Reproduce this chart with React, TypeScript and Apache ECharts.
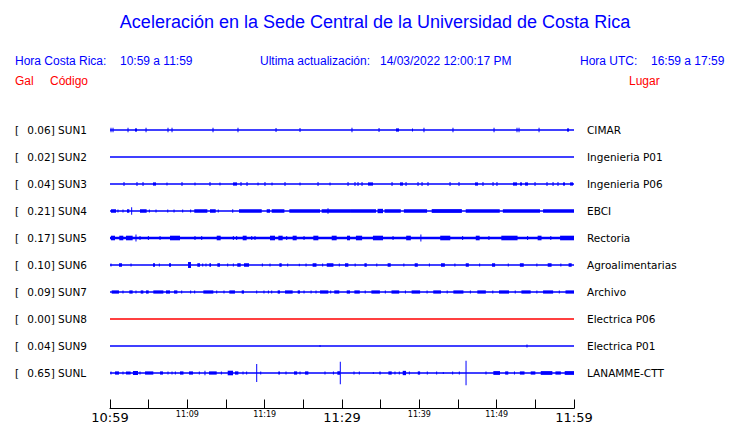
import React, { useEffect, useRef } from "react";
import * as echarts from "echarts";

// ---------- data ----------
const stationCodes = ["SUN1", "SUN2", "SUN3", "SUN4", "SUN5", "SUN6", "SUN7", "SUN8", "SUN9", "SUNL"];
const peakGal = [0.06, 0.02, 0.04, 0.21, 0.17, 0.1, 0.09, 0.0, 0.04, 0.65];
const places = [
  "CIMAR",
  "Ingenieria P01",
  "Ingenieria P06",
  "EBCI",
  "Rectoria",
  "Agroalimentarias",
  "Archivo",
  "Electrica P06",
  "Electrica P01",
  "LANAMME-CTT",
];
// minutes since 10:59
const timeRange = [0, 60];
const tickLabels = ["10:59", "", "11:09", "", "11:19", "", "11:29", "", "11:39", "", "11:49", "", "11:59"];
const majorTickLabels = ["10:59", "11:29", "11:59"];

// events per station: [start minute, end minute, half amplitude (fraction of trace spacing)]
const sun1Events = [
  [0.13, 0.13, 0.085], [0.39, 0.39, 0.085], [2.33, 2.33, 0.085], [3.23, 3.49, 0.06], [4.66, 4.66, 0.085],
  [7.5, 7.5, 0.085], [8.02, 8.02, 0.085], [13.32, 13.32, 0.085], [16.55, 16.55, 0.085], [21.47, 21.47, 0.07],
  [24.57, 24.57, 0.07], [31.29, 31.29, 0.085], [34.79, 34.79, 0.07], [36.98, 37.37, 0.06], [39.05, 39.18, 0.06],
  [40.6, 40.6, 0.085], [44.35, 44.35, 0.085], [49.66, 49.66, 0.085], [52.63, 52.63, 0.085], [52.89, 52.89, 0.085],
  [55.48, 55.48, 0.085], [59.1, 59.36, 0.06],
];
const sun2Events: number[][] = [];
const sun3Events = [
  [1.81, 1.81, 0.07], [3.49, 3.49, 0.07], [4.27, 4.27, 0.07], [5.56, 5.95, 0.06], [7.37, 7.37, 0.06],
  [9.31, 9.31, 0.07], [10.99, 10.99, 0.06], [12.93, 12.93, 0.07], [14.22, 14.22, 0.06], [15.91, 16.42, 0.06],
  [16.94, 16.94, 0.07], [17.72, 17.72, 0.07], [19.14, 19.14, 0.06], [20.04, 20.04, 0.07], [20.95, 20.95, 0.06],
  [22.63, 22.63, 0.07], [24.57, 24.57, 0.06], [26.9, 26.9, 0.07], [28.45, 28.45, 0.06], [30.78, 30.78, 0.07],
  [31.68, 31.68, 0.07], [32.07, 32.07, 0.07], [32.59, 32.59, 0.07], [33.36, 34.01, 0.06], [36.47, 36.47, 0.07],
  [37.5, 37.89, 0.06], [38.28, 38.28, 0.07], [39.83, 39.83, 0.07], [40.35, 40.35, 0.07], [41.12, 41.12, 0.07],
  [43.97, 43.97, 0.07], [45.13, 45.13, 0.07], [47.2, 47.59, 0.06], [48.23, 48.23, 0.07], [49.53, 49.53, 0.07],
  [50.04, 50.04, 0.07], [52.11, 52.63, 0.06], [53.02, 53.28, 0.06], [53.67, 54.05, 0.06], [54.96, 54.96, 0.07],
  [56.51, 56.51, 0.07], [57.29, 57.29, 0.07], [57.93, 57.93, 0.07], [58.58, 58.84, 0.06], [59.49, 59.87, 0.06],
];
const sun4Events = [
  [0.13, 0.78, 0.065], [1.03, 1.03, 0.06], [1.68, 1.68, 0.06], [2.2, 2.5, 0.065], [2.8, 2.8, 0.14],
  [3.88, 4.74, 0.065], [5.09, 5.09, 0.06], [5.95, 5.95, 0.06], [7.47, 7.47, 0.06], [8.28, 8.28, 0.06],
  [9.4, 9.4, 0.06], [10.43, 10.43, 0.06], [10.9, 12.59, 0.065], [12.93, 13.67, 0.065], [14.0, 14.0, 0.06],
  [15.87, 15.87, 0.065], [16.68, 19.62, 0.065], [20.26, 20.69, 0.065], [20.91, 22.55, 0.065], [23.19, 27.16, 0.065],
  [27.37, 31.04, 0.065], [28.19, 28.19, 0.1], [31.04, 34.4, 0.065], [34.6, 35.3, 0.08], [35.5, 37.6, 0.065],
  [38.0, 41.0, 0.065], [41.6, 45.5, 0.07], [46.0, 50.4, 0.065], [50.8, 55.6, 0.065], [56.0, 60.0, 0.065],
];
const sun5Events = [
  [0.13, 0.65, 0.085], [1.2, 1.72, 0.085], [2.07, 2.93, 0.085], [3.36, 3.36, 0.13], [3.88, 3.88, 0.07],
  [4.96, 4.96, 0.07], [6.47, 6.47, 0.07], [7.76, 9.05, 0.085], [10.99, 10.99, 0.07], [11.86, 11.86, 0.07],
  [13.8, 14.31, 0.085], [15.95, 15.95, 0.07], [16.38, 16.38, 0.07], [17.16, 17.67, 0.085], [18.33, 18.33, 0.07],
  [18.75, 18.75, 0.07], [20.69, 21.34, 0.085], [21.77, 22.33, 0.085], [22.85, 22.85, 0.07], [23.62, 24.14, 0.085],
  [25.09, 25.09, 0.07], [26.29, 26.94, 0.085], [28.67, 29.31, 0.085], [30.65, 31.04, 0.085], [31.8, 32.6, 0.085],
  [34.0, 35.3, 0.085], [36.6, 36.6, 0.07], [38.3, 38.9, 0.085], [40.2, 40.2, 0.13], [42.7, 44.0, 0.085],
  [45.6, 45.6, 0.07], [47.3, 47.8, 0.085], [49.0, 49.0, 0.07], [50.6, 52.7, 0.085], [54.0, 54.0, 0.07],
  [55.3, 55.8, 0.085], [57.0, 57.0, 0.07], [58.2, 60.0, 0.085],
];
const sun6Events = [
  [0.13, 0.13, 0.06], [1.16, 1.55, 0.065], [2.72, 2.72, 0.06], [5.56, 5.82, 0.065], [6.38, 6.38, 0.06],
  [7.63, 7.89, 0.065], [10.09, 10.47, 0.11], [11.29, 11.64, 0.065], [11.99, 11.99, 0.06], [12.41, 12.41, 0.06],
  [12.85, 13.06, 0.065], [13.88, 14.22, 0.065], [15.22, 15.22, 0.06], [15.95, 15.95, 0.06], [16.46, 16.9, 0.065],
  [17.33, 17.98, 0.065], [19.7, 19.7, 0.06], [20.69, 20.69, 0.06], [21.9, 22.2, 0.065], [22.98, 22.98, 0.06],
  [24.48, 24.48, 0.05], [25.35, 25.35, 0.06], [26.2, 26.7, 0.065], [27.5, 27.5, 0.06], [28.03, 28.89, 0.065],
  [29.65, 29.65, 0.06], [30.39, 30.82, 0.065], [31.7, 31.7, 0.06], [32.9, 33.2, 0.065], [34.5, 34.5, 0.06],
  [35.9, 36.3, 0.065], [38.0, 38.0, 0.06], [39.4, 39.8, 0.065], [41.3, 41.3, 0.06], [42.8, 43.3, 0.065],
  [44.6, 44.6, 0.06], [46.0, 46.4, 0.065], [47.8, 47.8, 0.06], [49.4, 49.8, 0.065], [51.5, 51.5, 0.06],
  [53.0, 53.5, 0.065], [55.2, 55.2, 0.06], [56.6, 57.1, 0.065], [58.3, 58.3, 0.06], [59.3, 59.7, 0.065],
];
const sun7Events = [
  [0.22, 1.16, 0.06], [1.68, 1.68, 0.055], [2.5, 2.93, 0.06], [3.36, 3.36, 0.055], [3.97, 4.31, 0.06],
  [4.66, 5.0, 0.06], [5.6, 6.9, 0.06], [7.24, 7.76, 0.06], [8.28, 8.71, 0.06], [9.27, 9.27, 0.055],
  [10.43, 10.43, 0.055], [10.95, 10.95, 0.055], [12.07, 13.36, 0.06], [13.8, 13.8, 0.055], [14.74, 14.74, 0.055],
  [15.43, 16.16, 0.06], [17.03, 17.33, 0.06], [18.97, 18.97, 0.055], [19.91, 19.91, 0.055], [20.48, 20.48, 0.055],
  [20.91, 20.91, 0.055], [21.68, 21.98, 0.06], [22.63, 23.62, 0.06], [24.27, 24.57, 0.06], [25.09, 25.09, 0.055],
  [26.0, 26.0, 0.055], [26.64, 26.64, 0.055], [27.16, 28.23, 0.06], [28.54, 28.54, 0.055], [29.0, 29.65, 0.06],
  [30.61, 31.04, 0.06], [31.6, 32.3, 0.06], [33.0, 33.0, 0.055], [33.8, 34.9, 0.06], [35.6, 35.6, 0.055],
  [36.4, 37.4, 0.06], [38.2, 38.2, 0.055], [39.0, 40.1, 0.06], [41.0, 41.0, 0.055], [41.8, 42.8, 0.06],
  [43.6, 43.6, 0.055], [44.4, 45.7, 0.06], [46.6, 46.6, 0.055], [47.5, 48.6, 0.06], [49.5, 49.5, 0.055],
  [50.3, 51.6, 0.06], [52.4, 52.4, 0.055], [53.2, 54.4, 0.06], [55.2, 55.2, 0.055], [56.0, 57.3, 0.06],
  [58.1, 58.1, 0.055], [58.9, 60.0, 0.06],
];
const sun8Events: number[][] = [];
const sun9Events = [[27.16, 27.16, 0.04], [53.92, 53.92, 0.055]];
const sunlEvents = [
  [0.13, 0.13, 0.06], [0.65, 1.16, 0.06], [1.68, 1.68, 0.055], [2.07, 2.67, 0.06], [2.97, 3.62, 0.075],
  [3.88, 3.88, 0.055], [4.53, 5.6, 0.06], [6.47, 6.85, 0.06], [7.5, 7.5, 0.055], [8.02, 8.02, 0.055],
  [8.45, 8.45, 0.055], [9.05, 9.5, 0.06], [10.22, 10.73, 0.06], [11.55, 11.55, 0.055], [12.28, 12.28, 0.085],
  [12.8, 13.8, 0.06], [14.4, 14.4, 0.055], [15.22, 15.91, 0.085], [16.16, 16.6, 0.06], [17.2, 17.2, 0.055],
  [17.67, 17.67, 0.055], [18.97, 18.97, 0.33], [19.49, 19.49, 0.055], [21.76, 21.98, 0.06], [22.76, 22.76, 0.055],
  [23.79, 24.2, 0.06], [24.57, 24.57, 0.055], [25.22, 25.65, 0.06], [27.8, 27.8, 0.055], [28.89, 28.89, 0.055],
  [29.4, 29.74, 0.065], [29.78, 29.78, 0.42], [31.55, 31.55, 0.055], [32.24, 32.24, 0.055], [34.05, 34.05, 0.04],
  [34.83, 35.0, 0.06], [36.0, 36.43, 0.06], [36.85, 36.85, 0.055], [37.41, 37.41, 0.055], [37.85, 38.28, 0.08],
  [38.71, 38.71, 0.055], [39.8, 40.1, 0.06], [41.03, 41.03, 0.055], [42.24, 42.24, 0.055], [43.1, 43.1, 0.04],
  [44.31, 44.31, 0.055], [45.17, 45.17, 0.055], [46.04, 46.04, 0.45], [48.62, 48.62, 0.055], [49.57, 50.43, 0.07],
  [51.1, 51.5, 0.06], [52.3, 52.3, 0.055], [53.0, 53.6, 0.06], [54.4, 55.0, 0.06], [55.7, 57.2, 0.07],
  [57.6, 58.3, 0.06], [58.8, 60.0, 0.07],
];
const stationEvents = [
  sun1Events, sun2Events, sun3Events, sun4Events, sun5Events,
  sun6Events, sun7Events, sun8Events, sun9Events, sunlEvents,
];

// ---------- style ----------
const BLUE = "#0000ff";
const RED = "#ff0000";
const traceColors = stationCodes.map((c) => (c === "SUN8" ? RED : BLUE));
const baseWidths = stationCodes.map((c) => (c === "SUN5" ? 2.5 : 1.5));
const MIN_SPIKE_W = 1;

export default function App() {
  const ref = useRef<HTMLDivElement>(null);

  useEffect(() => {
    if (!ref.current) return;
    const chart = echarts.init(ref.current, undefined, { renderer: "svg" });

    const series: any[] = [];
    stationCodes.forEach((code, row) => {
      series.push({
        type: "line",
        name: code + "-base",
        xAxisIndex: 0,
        yAxisIndex: 0,
        data: [
          [timeRange[0], row],
          [timeRange[1], row],
        ],
        symbol: "none",
        lineStyle: { color: traceColors[row], width: baseWidths[row] },
        silent: true,
      });
      series.push({
        type: "custom",
        name: code,
        xAxisIndex: 0,
        yAxisIndex: 0,
        encode: { x: [0, 1], y: 3 },
        data: stationEvents[row].map((e) => [e[0], e[1], e[2], row]),
        renderItem: (params: any, api: any) => {
          const t0 = api.value(0);
          const t1 = api.value(1);
          const a = api.value(2);
          const r = api.value(3);
          const p0 = api.coord([t0, r - a]);
          const p1 = api.coord([t1, r + a]);
          const raw = Math.abs(p1[0] - p0[0]);
          const w = Math.max(raw, MIN_SPIKE_W);
          const x = Math.min(p0[0], p1[0]) - (raw < MIN_SPIKE_W ? MIN_SPIKE_W / 2 : 0);
          const y = Math.min(p0[1], p1[1]);
          const h = Math.abs(p1[1] - p0[1]);
          return {
            type: "rect",
            shape: { x, y, width: w, height: h },
            style: { fill: traceColors[r] },
          };
        },
        silent: true,
      });
    });

    const headerFont = "12px 'Liberation Sans', Arial, sans-serif";
    const option: any = {
      animation: false,
      backgroundColor: "#ffffff",
      grid: {
        left: 110,
        top: 116.5,
        width: 464,
        height: 270,
        containLabel: false,
        outerBoundsMode: "none",
      },
      xAxis: [
        {
          type: "value",
          min: timeRange[0],
          max: timeRange[1],
          interval: 5,
          position: "bottom",
          offset: 22,
          axisLine: { show: true, onZero: false, lineStyle: { color: "#000", width: 1 } },
          axisTick: { show: true, inside: true, length: 9, lineStyle: { color: "#000", width: 1 } },
          splitLine: { show: false },
          axisLabel: {
            show: true,
            showMinLabel: true,
            showMaxLabel: true,
            margin: 2,
            hideOverlap: false,
            formatter: (v: number) => {
              const lbl = tickLabels[Math.round(v / 5)] || "";
              if (!lbl) return "";
              return majorTickLabels.includes(lbl) ? `{big|${lbl}}` : `{small|${lbl}}`;
            },
            rich: {
              big: { fontFamily: "DejaVu Sans", fontSize: 13, fontWeight: "normal", color: "#000", verticalAlign: "top" },
              small: { fontFamily: "DejaVu Sans", fontSize: 8, fontWeight: "normal", color: "#000", verticalAlign: "top" },
            },
          },
        },
      ],
      yAxis: [
        {
          type: "value",
          min: -0.5,
          max: 9.5,
          inverse: true,
          show: false,
        },
        {
          type: "category",
          data: stationCodes,
          inverse: true,
          position: "left",
          axisLine: { show: false },
          axisTick: { show: false },
          splitLine: { show: false },
          axisLabel: {
            show: true,
            align: "left",
            margin: 95,
            interval: 0,
            fontFamily: "DejaVu Sans",
            fontSize: 10.5,
            color: "#000",
            formatter: (value: string, idx: number) =>
              `{br|[}${peakGal[idx].toFixed(2)}] ${value}`,
            rich: {
              br: { width: 12.3, fontFamily: "DejaVu Sans", fontSize: 10.5, color: "#000" },
            },
          },
        },
        {
          type: "category",
          data: places,
          inverse: true,
          position: "right",
          axisLine: { show: false },
          axisTick: { show: false },
          splitLine: { show: false },
          axisLabel: {
            show: true,
            align: "left",
            margin: 13,
            interval: 0,
            fontFamily: "DejaVu Sans",
            fontSize: 10.5,
            color: "#000",
          },
        },
      ],
      graphic: [
        {
          type: "text",
          x: 375,
          y: 22,
          style: {
            text: "Aceleración en la Sede Central de la Universidad de Costa Rica",
            font: "18px 'Liberation Sans', Arial, sans-serif",
            fill: BLUE,
            textAlign: "center",
            textVerticalAlign: "middle",
          },
        },
        { type: "text", x: 15, y: 61, style: { text: "Hora Costa Rica:", font: headerFont, fill: BLUE, textVerticalAlign: "middle" } },
        { type: "text", x: 120, y: 61, style: { text: "10:59 a 11:59", font: headerFont, fill: BLUE, textVerticalAlign: "middle" } },
        { type: "text", x: 260, y: 61, style: { text: "Ultima actualización:", font: headerFont, fill: BLUE, textVerticalAlign: "middle" } },
        { type: "text", x: 380, y: 61, style: { text: "14/03/2022 12:00:17 PM", font: headerFont, fill: BLUE, textVerticalAlign: "middle" } },
        { type: "text", x: 580, y: 61, style: { text: "Hora UTC:", font: headerFont, fill: BLUE, textVerticalAlign: "middle" } },
        { type: "text", x: 651, y: 61, style: { text: "16:59 a 17:59", font: headerFont, fill: BLUE, textVerticalAlign: "middle" } },
        { type: "text", x: 15, y: 81, style: { text: "Gal", font: headerFont, fill: RED, textVerticalAlign: "middle" } },
        { type: "text", x: 50, y: 81, style: { text: "Código", font: headerFont, fill: RED, textVerticalAlign: "middle" } },
        { type: "text", x: 629, y: 81, style: { text: "Lugar", font: headerFont, fill: RED, textVerticalAlign: "middle" } },
      ],
      series,
    };

    chart.setOption(option);
    return () => chart.dispose();
  }, []);

  return (
    <div
      ref={ref}
      style={{ position: "fixed", left: 0, top: 0, width: 740, height: 423, background: "#fff" }}
    />
  );
}
